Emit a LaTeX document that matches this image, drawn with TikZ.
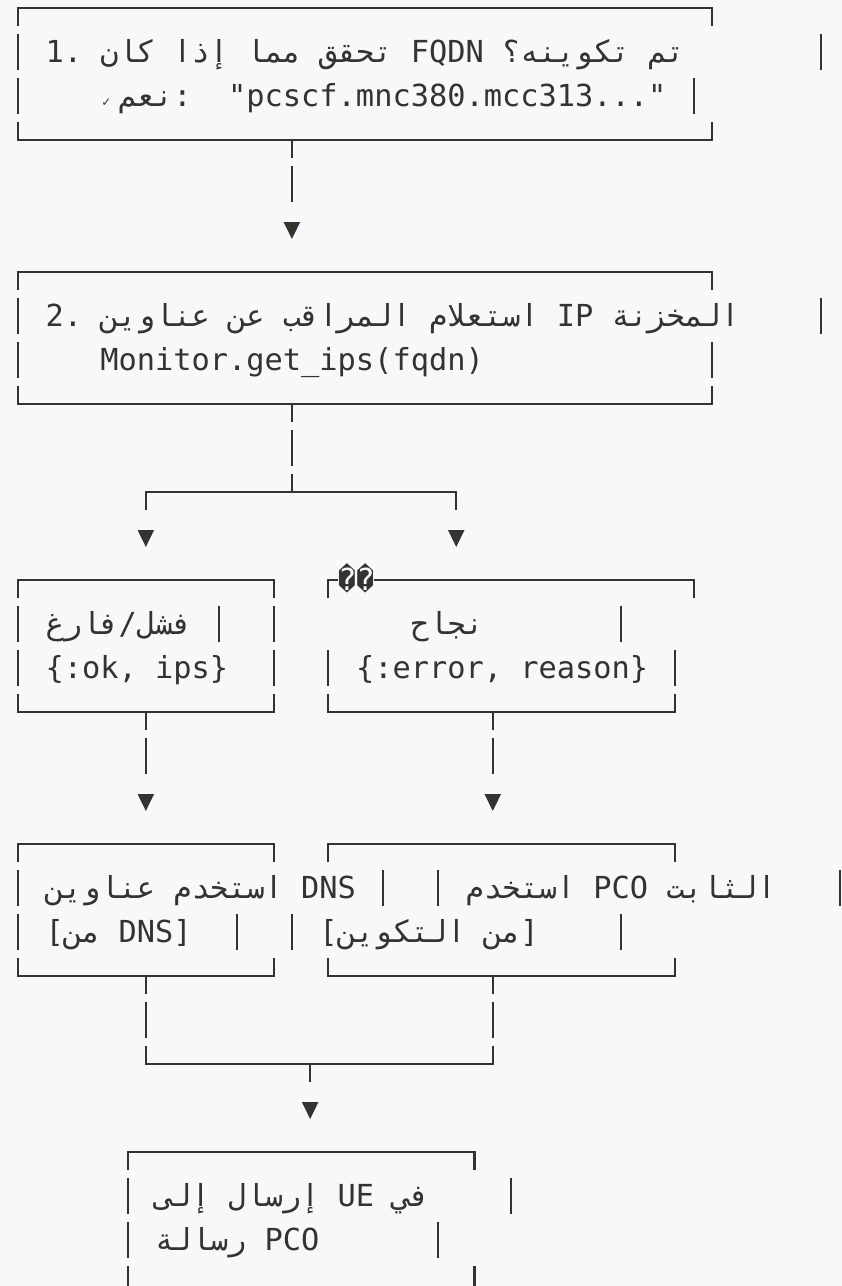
\documentclass[tikz,border=0pt]{standalone}
\usepackage{fontspec}
\usetikzlibrary{arrows.meta,fit}
\TeXXeTstate=1
\frenchspacing
\newfontfamily\codefont{DejaVu Sans Mono}
\newfontfamily\arabcode[Script=Arabic]{DejaVu Sans Mono}
\newfontfamily\tickfont{DejaVu Sans}
\definecolor{paper}{HTML}{F6F8FA}
\definecolor{ink}{HTML}{333330}
\newcommand{\artext}[1]{{\arabcode\beginR #1\endR}}% one right-to-left run
\newcommand{\topedge}[1]{% top row of a box, with both corner ticks
  \draw[rule] ([yshift=-18pt]#1.north west) -- (#1.north west)
              -- (#1.north east) -- ([yshift=-18pt]#1.north east);}
\newcommand{\botedge}[1]{% bottom row of a box, with both corner ticks
  \draw[rule] ([yshift=18pt]#1.south west) -- (#1.south west)
              -- (#1.south east) -- ([yshift=18pt]#1.south east);}
\newcommand{\cellbar}[2]{% one side bar in column #1 of text row #2
  \draw[rule] ([yshift=18pt]#1,#2) -- ([yshift=-18pt]#1,#2);}

\begin{document}
\begin{tikzpicture}[
      rule/.style={draw=ink,line width=2.1pt},
      rail/.style={rule,line cap=rect},
      trunk/.style={rule,dash pattern=on 36pt off 8pt,dash phase=18pt},
      flow/.style={rule,dash pattern=on 18pt off 8pt on 36pt off 99pt,
                   shorten >=33pt,-{Triangle[length=17pt,width=16pt]}},
      drop/.style={rule,dash pattern=on 18pt off 99pt,
                   shorten >=33pt,-{Triangle[length=17pt,width=16pt]}},
      boxarea/.style={inner sep=0pt,outer sep=0pt},
      txt/.style={anchor=base west,inner sep=0pt,text=ink,
                  font=\codefont\fontsize{30.33pt}{44pt}\selectfont}]

    \fill[paper] (0,0) rectangle (842pt,-1286pt);
    \useasboundingbox (0,0) rectangle (842pt,-1286pt);

  \begin{scope}[shift={(18pt,-8pt)},x=18.26pt,y=-44pt]
    % ---- Box 1: FQDN check ---------------------------------------------
    \node[boxarea,fit={(0,0) (38,3)}] (b1) {};
    \topedge{b1} \botedge{b1}
    \foreach \c/\r in {0/1,44/1,0/2,37/2} {\cellbar{\c}{\r}}
    \node[txt] (q1) at ([yshift=-10.5pt]1.5,1)
          {1. \artext{تحقق مما إذا كان}\ FQDN \artext{تم تكوينه؟}};
    \node[txt,font=\tickfont\fontsize{12pt}{12pt}\selectfont] (tick)
          at ([yshift=-10.5pt]4.55,2) {✓};
    \node[txt] (q2) at ([yshift=-10.5pt]5.5,2)
          {\artext{نعم}:\ \ "pcscf.mnc380.mcc313..."};

    % ---- Box 2: monitor lookup -----------------------------------------
    \node[boxarea,fit={(0,6) (38,9)}] (b2) {};
    \topedge{b2} \botedge{b2}
    \foreach \c/\r in {0/7,44/7,0/8,38/8} {\cellbar{\c}{\r}}
    \node[txt] (q3) at ([yshift=-10.5pt]1.5,7)
          {2. \artext{استعلام المراقب عن عناوين}\ IP \artext{المخزنة}};
    \node[txt] (q4) at ([yshift=-10.5pt]4.5,8) {Monitor.get\_ips(fqdn)};

    \coordinate (split) at (15,11);
    \coordinate (splitL) at (7,11);
    \coordinate (splitR) at (24,11);
    \draw[flow] (b1.south -| split) -- (b2.north -| split);
    \draw[trunk] (b2.south -| split) -- (split);
    \draw[rail] (splitL) -- (splitR);

    % ---- Row 3: the two results ----------------------------------------
    \node[boxarea,fit={(0,13) (14,16)}] (b3a) {};
    \node[boxarea,fit={(17,13) (36,16)}] (b3b) {};
    \coordinate (b3bcap) at (37,13);
    \topedge{b3a} \botedge{b3a} \botedge{b3b}
    \node[txt] (garbled) at ([yshift=-10.5pt]17.5,13) {\char"FFFD\char"FFFD};
    \draw[rule] ([yshift=-18pt]b3b.north west) -- (b3b.north west)
          -- (b3b.north west -| garbled.west);
    \draw[rule] (b3b.north -| garbled.east) -- (b3bcap)
          -- ([yshift=-18pt]b3bcap);
    \foreach \c/\r in {0/14,11/14,14/14,33/14,0/15,14/15,17/15,36/15}
          {\cellbar{\c}{\r}}
    \node[txt] (r1) at ([yshift=-10.5pt]1.5,14) {\artext{فشل/فارغ}};
    \node[txt] (r2) at ([yshift=-10.5pt]21.5,14) {\artext{نجاح}};
    \node[txt] (r3) at ([yshift=-10.5pt]1.5,15) {\{:ok, ips\}};
    \node[txt] (r4) at ([yshift=-10.5pt]18.5,15) {\{:error, reason\}};
    \draw[drop] (splitL) -- (b3a.north);
    \draw[drop] (splitR) -- (b3b.north -| splitR);

    % ---- Row 4: where the addresses come from --------------------------
    \node[boxarea,fit={(0,19) (14,22)}] (b4a) {};
    \node[boxarea,fit={(17,19) (36,22)}] (b4b) {};
    \topedge{b4a} \botedge{b4a} \topedge{b4b} \botedge{b4b}
    \foreach \c/\r in {0/20,20/20,23/20,45/20,0/21,12/21,15/21,33/21}
          {\cellbar{\c}{\r}}
    \node[txt] (s1) at ([yshift=-10.5pt]1.5,20) {\artext{استخدم عناوين}\ DNS};
    \node[txt] (s2) at ([yshift=-10.5pt]24.5,20)
          {\artext{استخدم}\ PCO \artext{الثابت}};
    \node[txt] (s3) at ([yshift=-10.5pt]1.5,21) {[\artext{من}\ DNS]};
    \node[txt] (s4) at ([yshift=-10.5pt]16.5,21)
          {[{\arabcode\beginR من التكوين\endR}]};

    \coordinate (join) at (16,24);
    \coordinate (joinL) at (7,24);
    \coordinate (joinR) at (26,24);
    \draw[flow] (b3a.south) -- (b4a.north);
    \draw[flow] (b3b.south -| joinR) -- (b4b.north -| joinR);
    \draw[trunk] (b4a.south) -- (joinL);
    \draw[trunk] (b4b.south -| joinR) -- (joinR);
    \draw[rail] (joinL) -- (joinR);

    % ---- Box 5: PCO message to the UE ----------------------------------
    \node[boxarea,fit={(6,26) (25,30)}] (b5) {};
    \topedge{b5}
    \foreach \c/\r in {6/27,27/27,6/28,23/28,6/29,25/29} {\cellbar{\c}{\r}}
    \node[txt] (u1) at ([yshift=-10.5pt]7.5,27)
          {\artext{إرسال إلى}\ UE \artext{في}};
    \node[txt] (u2) at ([yshift=-10.5pt]7.5,28) {\artext{رسالة}\ PCO};
    \draw[drop] (join) -- (b5.north -| join);
  \end{scope}
\end{tikzpicture}
\end{document}
